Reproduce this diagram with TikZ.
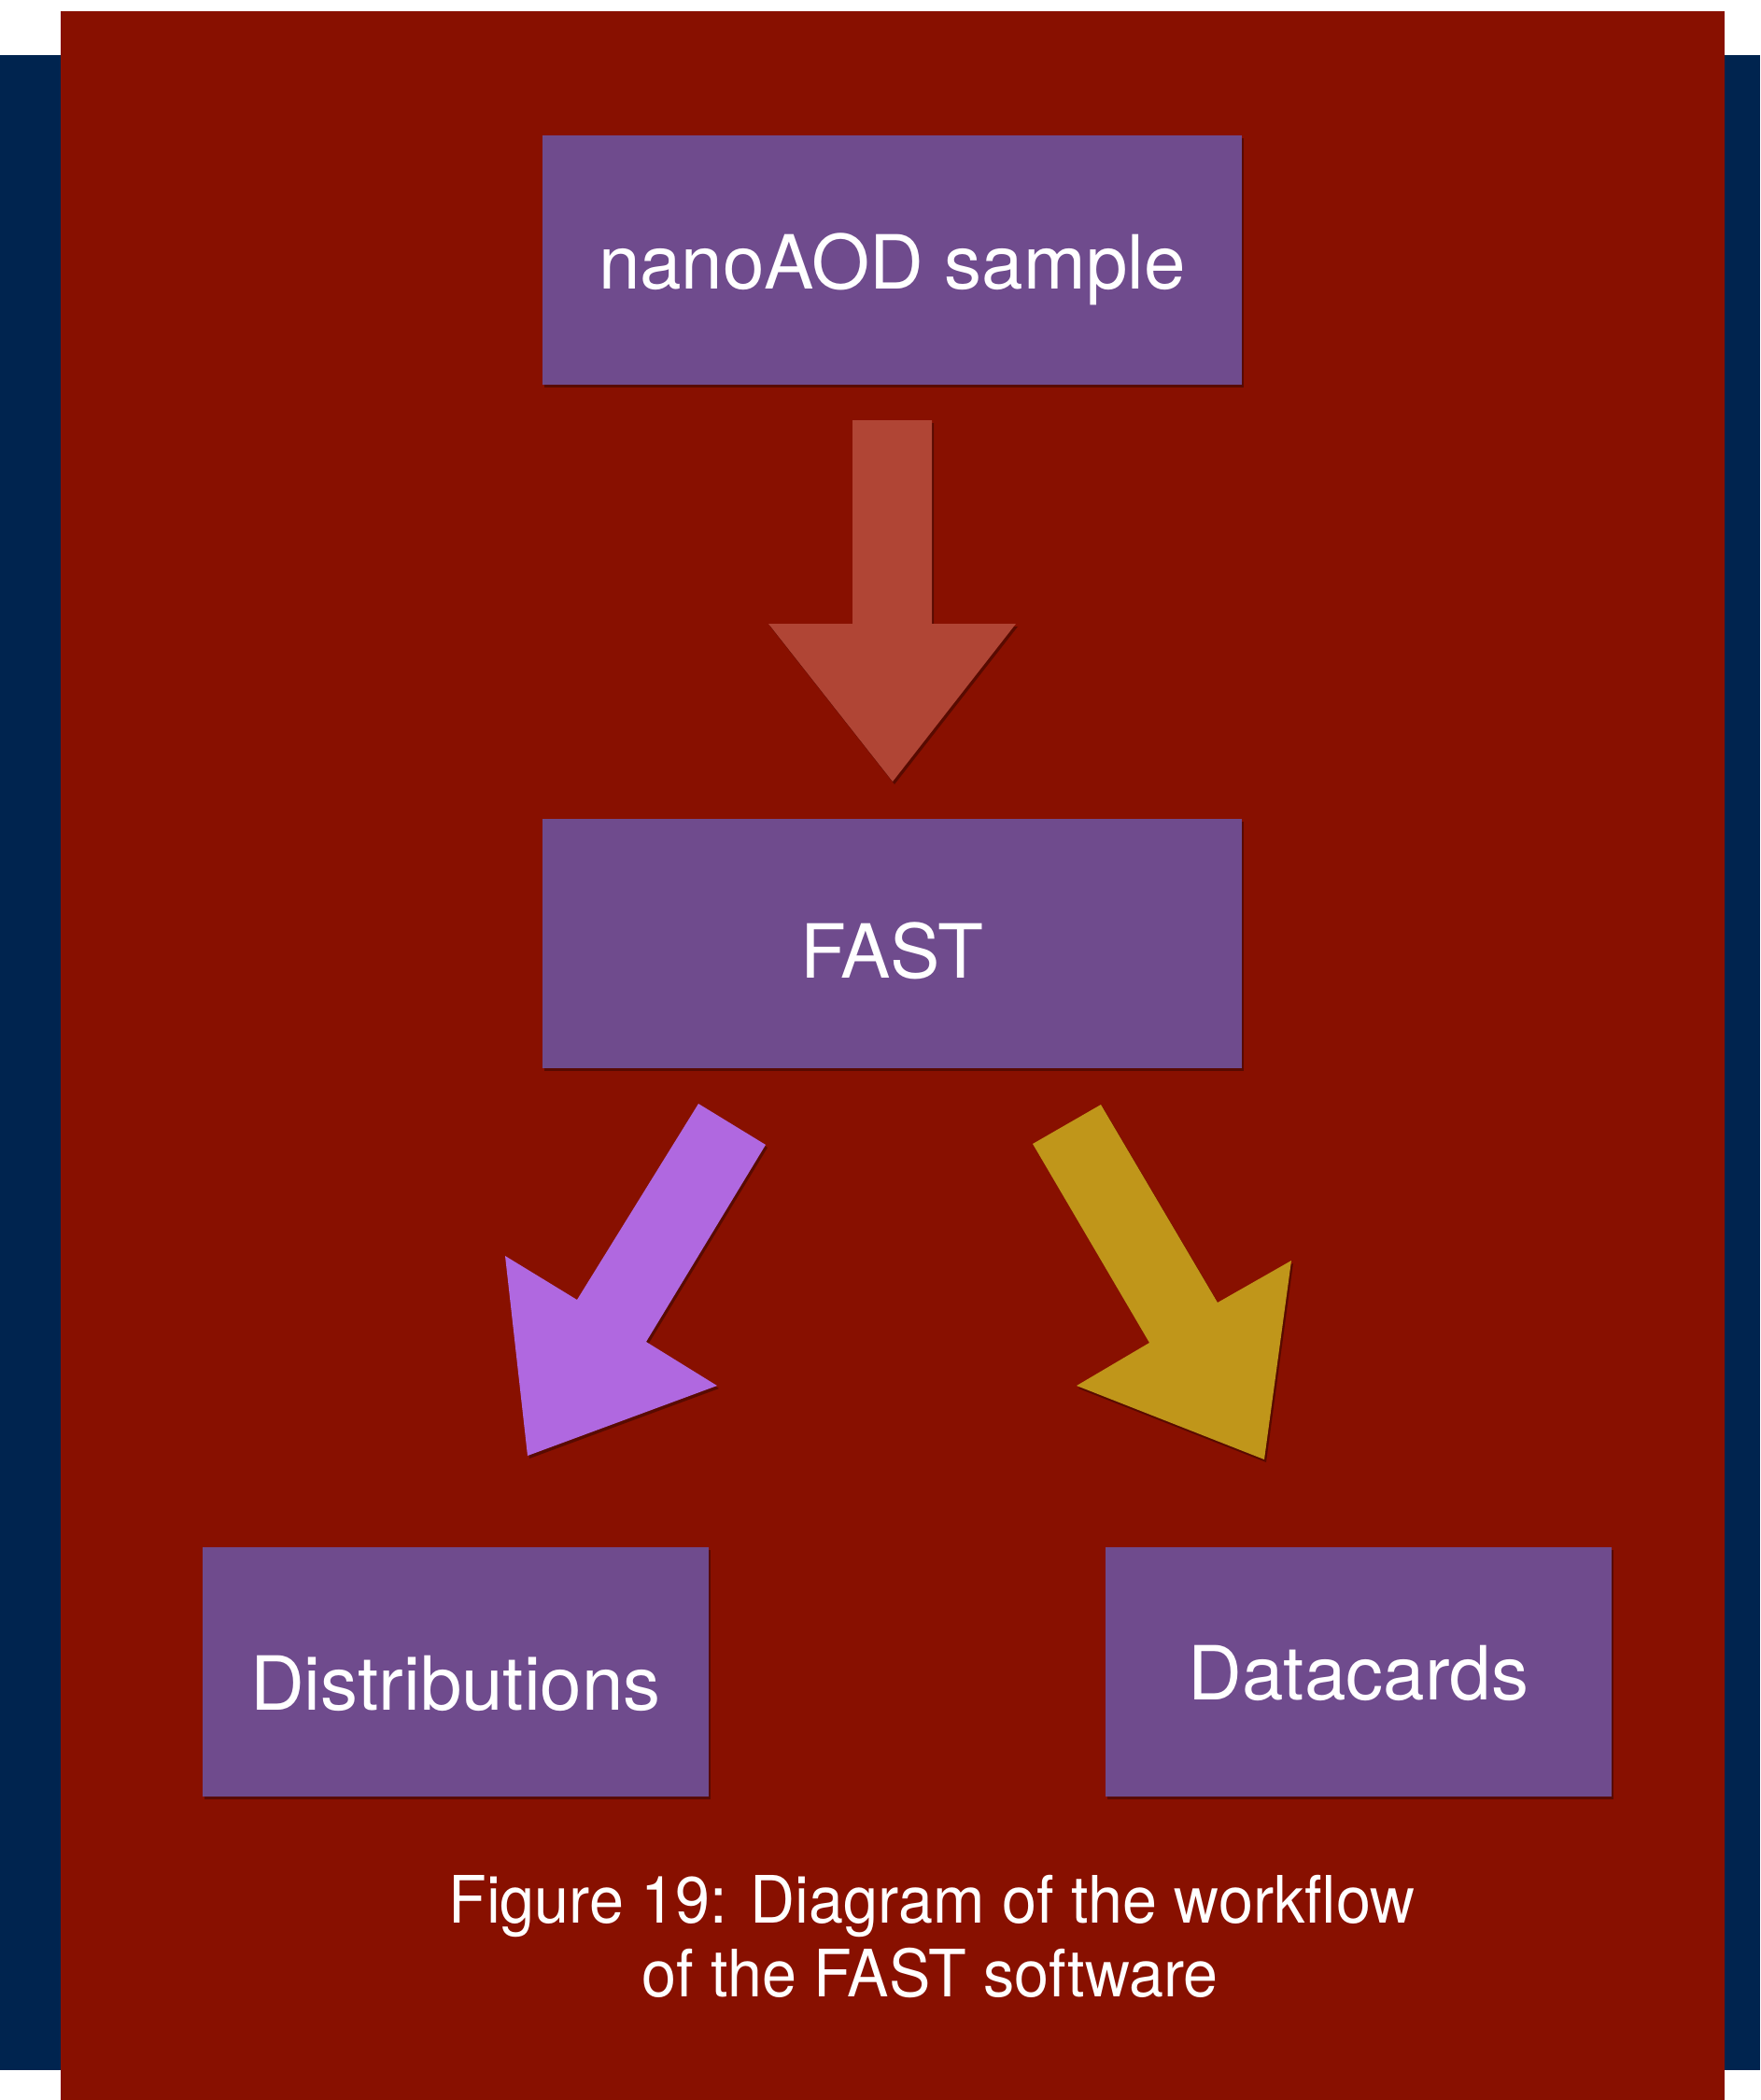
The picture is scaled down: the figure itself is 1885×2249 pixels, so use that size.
\documentclass[tikz,border=0pt]{standalone}
\usepackage{fontspec}
\usepackage{graphicx}
\setmainfont{TeX Gyre Heros}
\usetikzlibrary{shadows}
\definecolor{bgred}{HTML}{881000}
\definecolor{bgblue}{HTML}{00244F}
\definecolor{boxpurple}{HTML}{6F4B8D}
\definecolor{arrowred}{HTML}{B04535}
\definecolor{arrowviolet}{HTML}{B068E0}
\definecolor{arrowgold}{HTML}{C0961A}
\begin{document}
\begin{tikzpicture}[x=0.5pt,y=-0.5pt,
  softshadow/.style={drop shadow={shadow xshift=1pt,shadow yshift=-1.5pt,opacity=0.35,fill=black}},
  stepbox/.style={fill=boxpurple,draw=none,inner sep=0pt,minimum height=133.5pt,softshadow},
  boxtext/.style={text=white,inner sep=0pt,anchor=base,font=\fontsize{40pt}{48pt}\selectfont},
  captext/.style={text=white,inner sep=0pt,anchor=base,font=\fontsize{35pt}{42pt}\selectfont},
  blockarrow/.style={draw=none,softshadow}]
\useasboundingbox (0,0) rectangle (1885,2249);
\fill[white] (0,0) rectangle (1885,2249);
\fill[bgblue] (0,59) rectangle (1885,2217);
\fill[bgred] (65,12) rectangle (1847,2249);
% boxes
\node[stepbox,minimum width=374.5pt] (nano) at (955.5,278.5) {};
\node[stepbox,minimum width=374.5pt] (fast) at (955.5,1010) {};
\node[stepbox,minimum width=271pt] (dist) at (488,1790.5) {};
\node[stepbox,minimum width=271pt] (card) at (1455,1790.5) {};
\node[boxtext] (nanotext) at (955.5,309) {nanoAOD sample};
\node[boxtext] (fasttext) at (955.5,1047) {FAST};
\node[boxtext] (disttext) at (488,1831) {Distributions};
\node[boxtext] (cardtext) at (1455,1820) {Datacards};
% block arrows
\fill[arrowred,blockarrow] (913,450) -- (998,450) -- (998,668) -- (1088,668) -- (956,837) -- (823,668) -- (913,668) -- cycle;
\fill[arrowviolet,blockarrow] (748,1182) -- (820,1226) -- (692,1437) -- (768,1484) -- (565,1559) -- (541,1345) -- (618,1392) -- cycle;
\fill[arrowgold,blockarrow] (1179,1183) -- (1106,1225) -- (1231,1438) -- (1153,1484) -- (1354,1563) -- (1383,1350) -- (1304,1395) -- cycle;
% caption
\node[captext] (cap1) at (998,2059) {\scalebox{0.95}[1]{Figure 19: Diagram of the workflow}};
\node[captext] (cap2) at (996,2138) {\scalebox{0.95}[1]{of the FAST software}};
\end{tikzpicture}
\end{document}
